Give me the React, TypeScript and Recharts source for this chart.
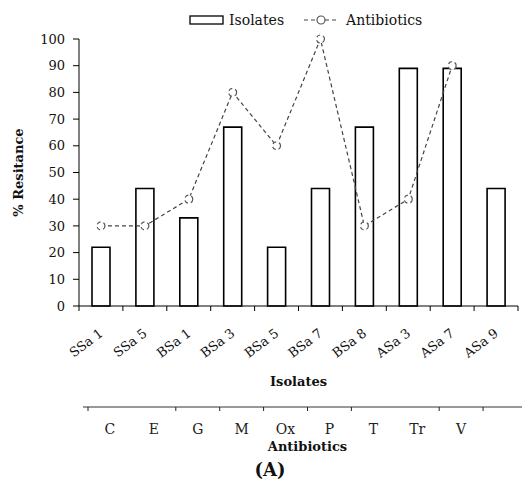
import React from 'react';
import { ComposedChart, Bar, Line, XAxis, YAxis, Legend } from 'recharts';

const isolates = ['SSa 1', 'SSa 5', 'BSa 1', 'BSa 3', 'BSa 5', 'BSa 7', 'BSa 8', 'ASa 3', 'ASa 7', 'ASa 9'];
const isolateValues = [22, 44, 33, 67, 22, 44, 67, 89, 89, 44];
const antibiotics = ['C', 'E', 'G', 'M', 'Ox', 'P', 'T', 'Tr', 'V', ''];
const antibioticValues: (number | null)[] = [30, 30, 40, 80, 60, 100, 30, 40, 90, null];
const yTicks = [0, 10, 20, 30, 40, 50, 60, 70, 80, 90, 100];
const untickedAntibiotics = ['E', 'Tr'];

const data = isolates.map((name, i) => ({
  iso: name,
  ab: antibiotics[i],
  isolates: isolateValues[i],
  antibiotics: antibioticValues[i],
}));

const W = 522;
const H = 486;
const MARGIN = { top: 39, right: 4, bottom: 29, left: 0 };
const Y_AXIS_W = 79;
const BAND = (W - MARGIN.left - MARGIN.right - Y_AXIS_W) / isolates.length;
const FONT = '"DejaVu Serif", serif';
const AB_SHIFT = 9;

const IsoTick = (props: any) => {
  const { x, y, payload, index } = props;
  const tx = x + 3;
  const ty = y + 29;
  const left = x - BAND / 2;
  return (
    <g>
      <line x1={left} y1={y} x2={left} y2={y + 5} stroke="#000" strokeWidth={1} />
      {index === isolates.length - 1 && (
        <line x1={x + BAND / 2} y1={y} x2={x + BAND / 2} y2={y + 5} stroke="#000" strokeWidth={1} />
      )}
      <text
        x={tx}
        y={ty}
        textAnchor="end"
        transform={`rotate(-37, ${tx}, ${ty})`}
        fontFamily={FONT}
        fontSize={13}
        fill="#111"
      >
        {payload.value}
      </text>
    </g>
  );
};

const AbTick = (props: any) => {
  const { x, y, payload } = props;
  const cx = x + AB_SHIFT;
  const left = cx - BAND / 2;
  const showTick = !untickedAntibiotics.includes(payload.value);
  return (
    <g>
      {showTick && <line x1={left} y1={y} x2={left} y2={y + 4} stroke="#222" strokeWidth={1} />}
      {payload.value !== '' && (
        <text x={cx} y={y + 27} textAnchor="middle" fontFamily={FONT} fontSize={14} fill="#222">
          {payload.value}
        </text>
      )}
    </g>
  );
};

const LegendContent = () => (
  <div
    style={{
      display: 'flex',
      alignItems: 'center',
      paddingLeft: 189,
      fontFamily: FONT,
      fontSize: 14,
      color: '#111',
      height: 20,
    }}
  >
    <svg width={36} height={12} style={{ marginRight: 4 }}>
      <rect x={1} y={2} width={33} height={8} fill="#fff" stroke="#000" strokeWidth={1.3} />
    </svg>
    <span>Isolates</span>
    <svg width={34} height={12} style={{ marginLeft: 20, marginRight: 8 }}>
      <line x1={0} y1={6} x2={34} y2={6} stroke="#444" strokeWidth={1.2} strokeDasharray="4 3" />
      <circle cx={17} cy={6} r={4} fill="#fff" stroke="#555" strokeWidth={1.2} />
    </svg>
    <span>Antibiotics</span>
  </div>
);

export default function App() {
  return (
    <div style={{ position: 'absolute', left: 0, top: 0, width: W, height: H, background: '#fff' }}>
      <ComposedChart width={W} height={H} data={data} margin={MARGIN}>
        <Legend
          verticalAlign="top"
          content={<LegendContent />}
          wrapperStyle={{ top: 10, left: 0, width: W, height: 0, overflow: 'visible' }}
        />
        <YAxis
          type="number"
          domain={[0, 100]}
          ticks={yTicks}
          width={Y_AXIS_W}
          tickSize={6}
          tickMargin={8}
          interval={0}
          axisLine={{ stroke: '#000' }}
          tickLine={{ stroke: '#000' }}
          tick={{ fontFamily: FONT, fontSize: 13, fill: '#111' }}
          label={{
            value: '% Resitance',
            angle: -90,
            position: 'insideLeft',
            offset: 18,
            style: { textAnchor: 'middle', fontFamily: FONT, fontSize: 13, fontWeight: 'bold', fill: '#111' },
          }}
        />
        <XAxis
          xAxisId="x1"
          dataKey="iso"
          type="category"
          interval={0}
          height={101}
          tickSize={0}
          tickMargin={0}
          tickLine={false}
          axisLine={{ stroke: '#000' }}
          tick={<IsoTick />}
          label={{
            value: 'Isolates',
            position: 'insideBottom',
            offset: 21,
            style: { fontFamily: FONT, fontSize: 13, fontWeight: 'bold', fill: '#111' },
          }}
        />
        <XAxis
          xAxisId="x2"
          dataKey="ab"
          type="category"
          interval={0}
          height={50}
          tickSize={0}
          tickMargin={0}
          tickLine={false}
          axisLine={{ stroke: '#333', transform: 'translate(4,0)' }}
          tick={<AbTick />}
          label={{
            value: 'Antibiotics',
            position: 'insideBottom',
            offset: 6,
            dx: AB_SHIFT,
            style: { fontFamily: FONT, fontSize: 13, fontWeight: 'bold', fill: '#111' },
          }}
        />
        <Bar
          xAxisId="x1"
          dataKey="isolates"
          barSize={18}
          fill="#fff"
          stroke="#000"
          strokeWidth={1.6}
          isAnimationActive={false}
        />
        <Line
          xAxisId="x1"
          dataKey="antibiotics"
          type="linear"
          stroke="#444"
          strokeWidth={1.2}
          strokeDasharray="4 3"
          dot={{ r: 4, fill: '#fff', stroke: '#555', strokeWidth: 1.2 }}
          activeDot={false}
          isAnimationActive={false}
        />
      </ComposedChart>
      <div
        style={{
          position: 'absolute',
          left: 220,
          top: 459,
          width: 100,
          textAlign: 'center',
          fontFamily: FONT,
          fontWeight: 'bold',
          fontSize: 18,
          color: '#111',
        }}
      >
        (A)
      </div>
    </div>
  );
}
